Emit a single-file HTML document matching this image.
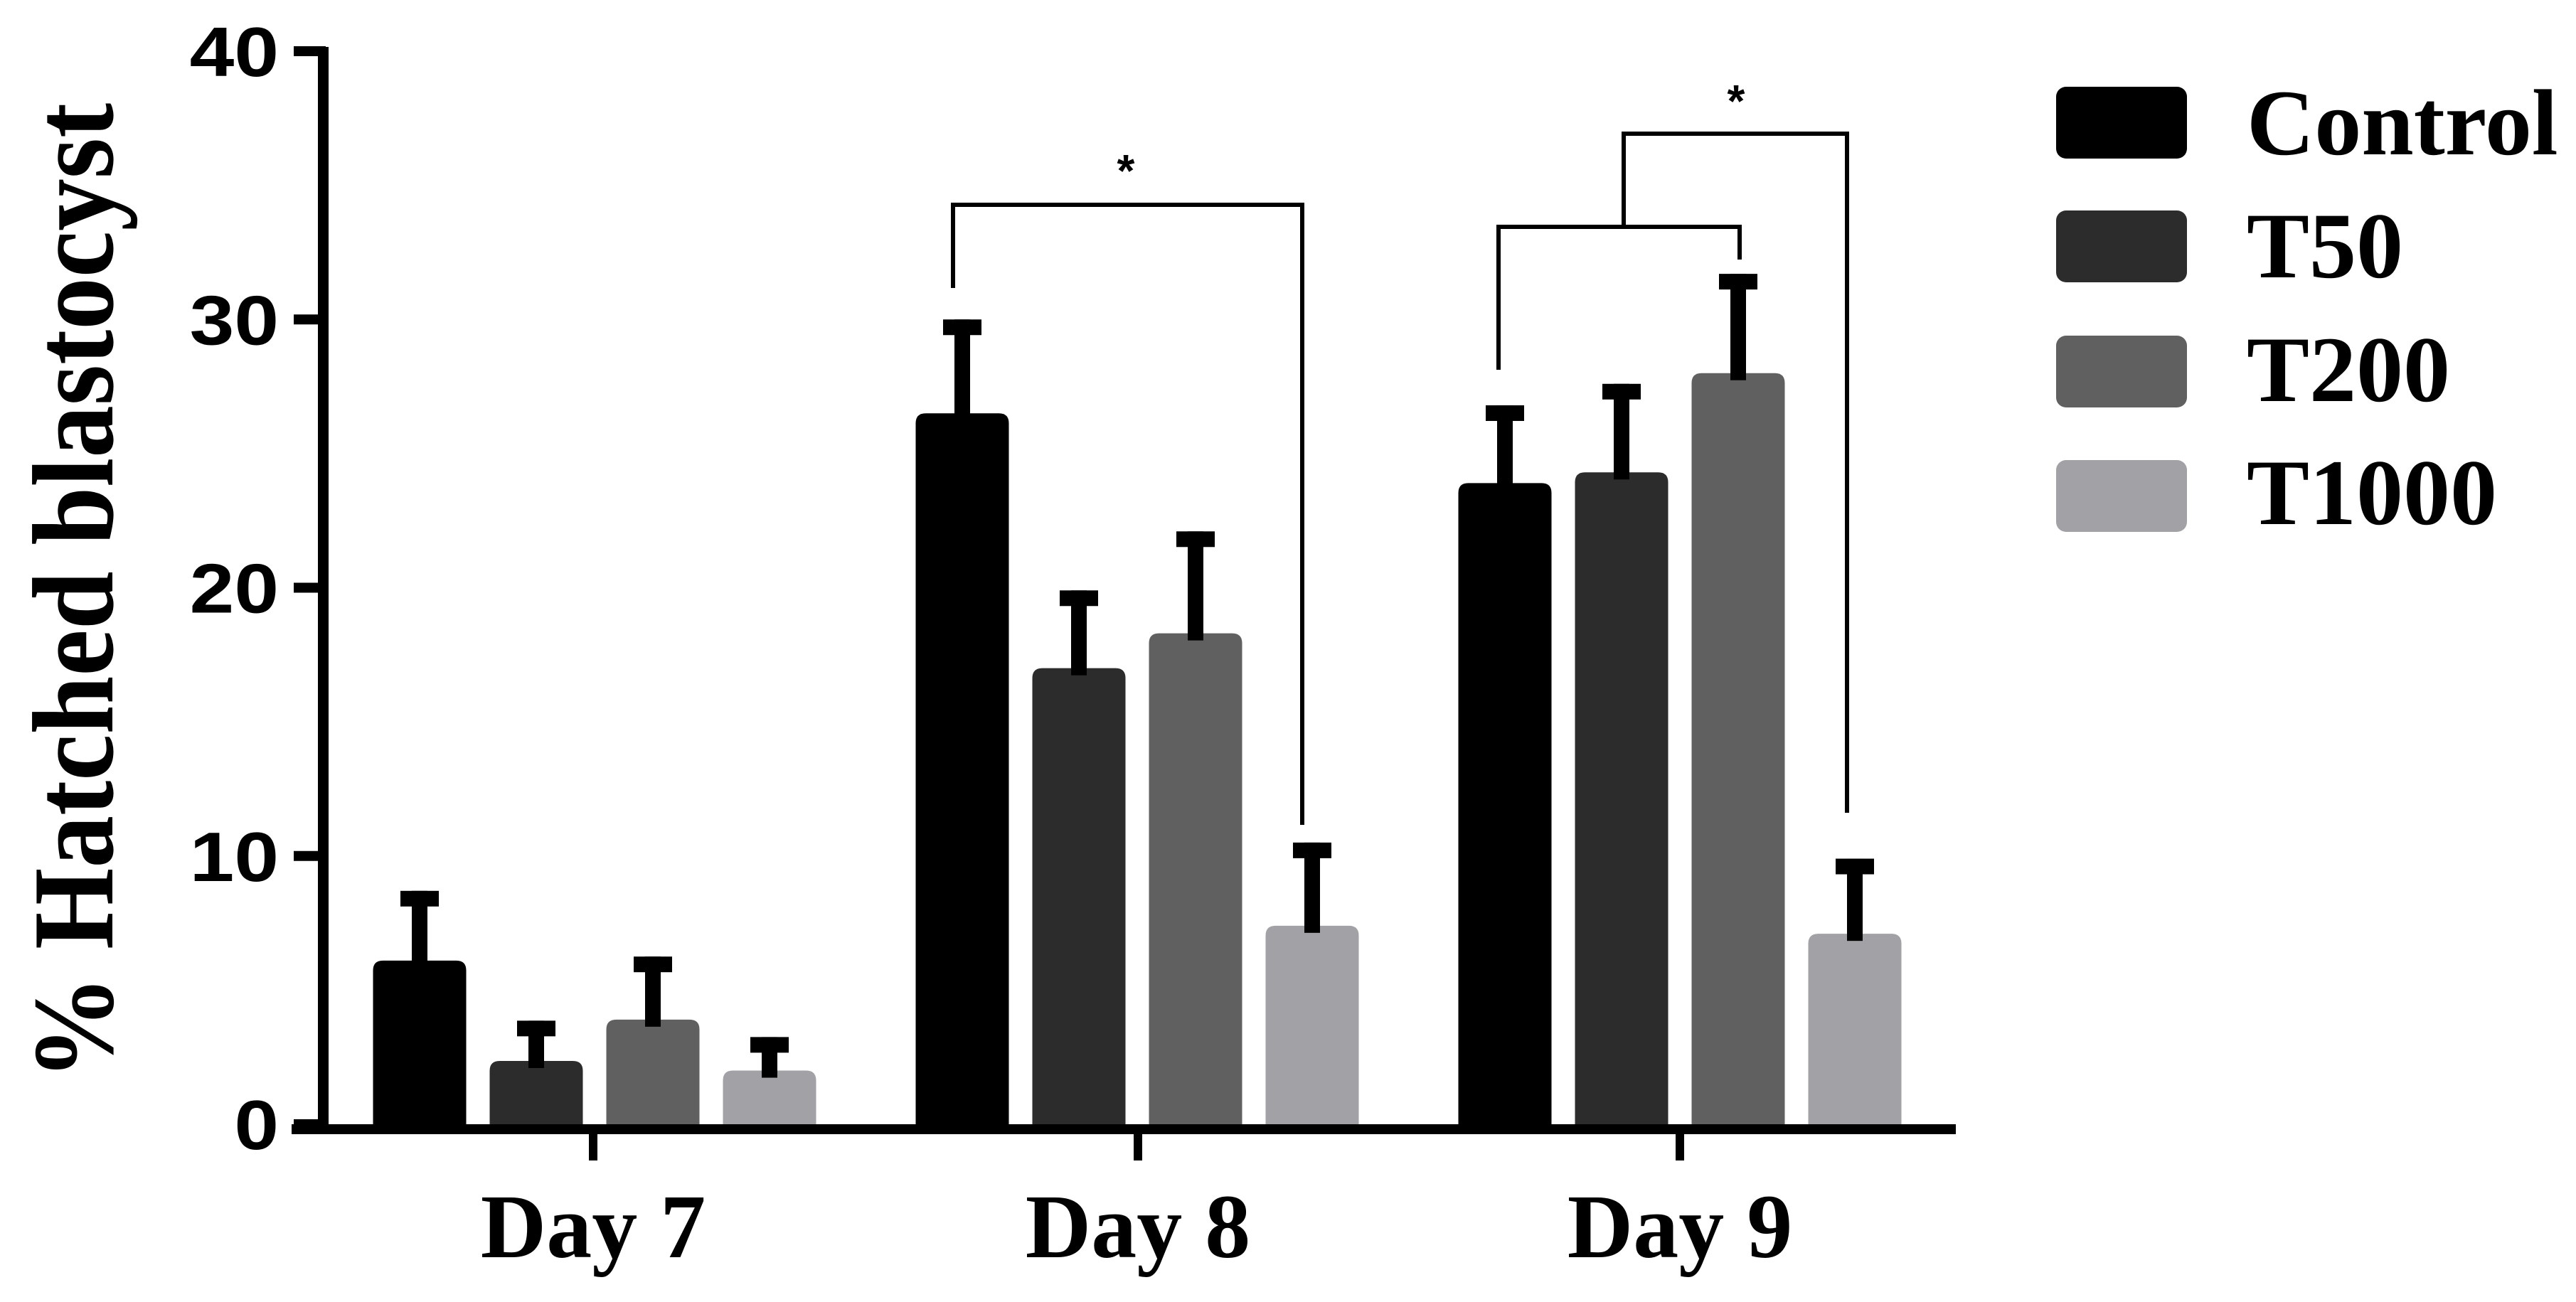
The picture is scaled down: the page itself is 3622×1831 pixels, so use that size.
<!DOCTYPE html>
<html><head><meta charset="utf-8"><style>
html,body{margin:0;padding:0;background:#fff;}
svg{display:block;}
</style></head><body>
<svg id="chart" width="3622" height="1831" viewBox="0 0 3622 1831" xmlns="http://www.w3.org/2000/svg">
<rect x="0" y="0" width="3622" height="1831" fill="#fff"/>
<g id="bars"></g>
<g id="axes"></g>
<g id="brackets"></g>
<g id="legend"></g>
<text transform="translate(158,832) rotate(-90) scale(0.95,1.05)" text-anchor="middle" font-family="Liberation Serif, serif" font-weight="bold" font-size="155">% Hatched blastocyst</text>
</svg>
<script>
const categories = ["Day 7", "Day 8", "Day 9"];
const seriesNames = ["Control", "T50", "T200", "T1000"];
const controlVals = [6.1, 26.5, 23.9];
const t50Vals = [2.36, 17.0, 24.3];
const t200Vals = [3.9, 18.3, 28.0];
const t1000Vals = [2.0, 7.4, 7.1];
const controlErr = [2.6, 3.5, 2.9];
const t50Err = [1.5, 2.9, 3.3];
const t200Err = [2.35, 3.8, 3.7];
const t1000Err = [1.25, 3.1, 2.8];
const yTicks = [0, 10, 20, 30, 40];
const colors = ["#000000", "#2c2c2c", "#606060", "#a2a1a5"];

const NS = "http://www.w3.org/2000/svg";
const values = [controlVals, t50Vals, t200Vals, t1000Vals];
const errs = [controlErr, t50Err, t200Err, t1000Err];
const y0 = 1581, yTop = 72, yMax = 40;
function yScale(v){ return y0 - v/yMax*(y0-yTop); }
const groupCenters0 = 836, groupStep = 763, barPitch = 164, barW = 131;
function groupX(i){ return groupCenters0 + i*groupStep; }
function barCenter(g,s){ return groupX(g) + (s-1.5)*barPitch; }
function mk(tag, attrs, parent){ const e=document.createElementNS(NS,tag); for(const k in attrs) e.setAttribute(k,attrs[k]); parent.appendChild(e); return e; }

const barsG = document.getElementById('bars');
for(let g=0; g<categories.length; g++){
  for(let s=0; s<seriesNames.length; s++){
    const cx = barCenter(g,s), v = values[s][g], top = yScale(v);
    const p = mk('path', {d:`M${cx-barW/2},${y0} L${cx-barW/2},${top+14} Q${cx-barW/2},${top} ${cx-barW/2+14},${top} L${cx+barW/2-14},${top} Q${cx+barW/2},${top} ${cx+barW/2},${top+14} L${cx+barW/2},${y0} Z`, fill:colors[s]}, barsG);
    
    
    const et = yScale(v + errs[s][g]);
    const stem = mk('rect', {x:cx-11, y:et, width:22, height:top-et+10, fill:'#000'}, barsG);
    
    
    const cap = mk('rect', {x:cx-27, y:et, width:54, height:22, fill:'#000'}, barsG);
    
    
  }
}

const axG = document.getElementById('axes');
const ya = mk('rect', {x:447, y:yTop-6, width:15, height:y0-yTop+20, fill:'#000'}, axG);


const xa = mk('rect', {x:410, y:1581, width:2340, height:14, fill:'#000'}, axG);


yTicks.forEach(t=>{
  const y = yScale(t);
  const tk = mk('rect', {x:413, y:y-7, width:45, height:14, fill:'#000'}, axG);
  
  
  const tx = mk('text', {x:0, y:0, 'text-anchor':'end', 'font-family':'Liberation Sans, sans-serif', 'font-weight':'bold', 'font-size':'98', transform:`translate(392,${y+35}) scale(1.15,1)`}, axG);
  tx.textContent = t;
  
  
});
categories.forEach((c,i)=>{
  const x = groupX(i) + (i==0?-2:(i==1?1:0));
  const tk = mk('rect', {x:x-6, y:1588, width:12, height:44, fill:'#000'}, axG);
  
  
  const tx = mk('text', {x:x, y:1768, 'text-anchor':'middle', 'font-family':'Liberation Serif, serif', 'font-weight':'bold', 'font-size':'128'}, axG);
  tx.textContent = c;
  
  
});

const brG = document.getElementById('brackets');
function line(pts, name){
  const pl = mk('polyline', {points:pts.map(p=>p.join(',')).join(' '), fill:'none', stroke:'#000', 'stroke-width':6}, brG);
  
  
}
line([[1340,405],[1340,288],[1831,288],[1831,1160]], 'bracket-day8');
line([[2107,520],[2107,319],[2446,319],[2446,365]], 'bracket-day9-inner');
line([[2283,319],[2283,188],[2597,188],[2597,1143]], 'bracket-day9-outer');
[[1583,262],[2441,164]].forEach(p=>{
  const s = mk('text', {x:p[0], y:p[1], 'text-anchor':'middle', 'font-family':'Liberation Sans, sans-serif', 'font-weight':'bold', 'font-size':'64'}, brG);
  s.textContent = '*';
  
  
});

const lgG = document.getElementById('legend');
const lgY = [122, 296, 472, 647], lgBase = [217, 390, 564, 737];
seriesNames.forEach((n,i)=>{
  const r = mk('rect', {x:2891, y:lgY[i], width:184, height:101, rx:14, fill:colors[i]}, lgG);
  
  
  const t = mk('text', {x:3159, y:lgBase[i], 'font-family':'Liberation Serif, serif', 'font-weight':'bold', 'font-size':'132'}, lgG);
  t.textContent = n;
  
  
});
</script>
</body></html>
